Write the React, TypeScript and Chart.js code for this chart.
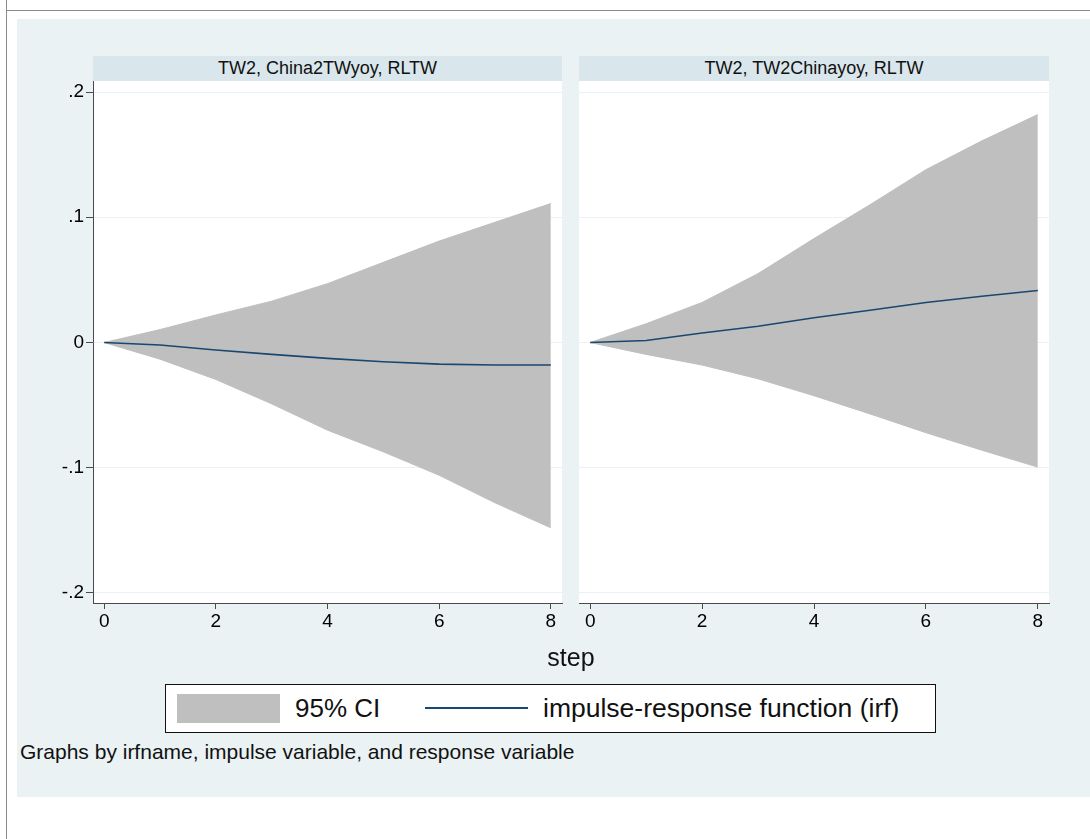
import React, { useEffect, useRef } from "react";
import { Chart, registerables } from "chart.js";

Chart.register(...registerables);

// ---------- data ----------
const steps = [0, 1, 2, 3, 4, 5, 6, 7, 8];

const irfChina2TW = [0, -0.002, -0.006, -0.0095, -0.0127, -0.0154, -0.0173, -0.018, -0.018];
const loChina2TW = [0, -0.0133, -0.0295, -0.049, -0.07, -0.0873, -0.106, -0.128, -0.148];
const hiChina2TW = [0, 0.0103, 0.022, 0.033, 0.047, 0.064, 0.081, 0.096, 0.111];

const irfTW2China = [0, 0.0016, 0.0076, 0.013, 0.0198, 0.0257, 0.032, 0.0369, 0.0415];
const loTW2China = [0, -0.0095, -0.018, -0.029, -0.0425, -0.057, -0.072, -0.086, -0.0995];
const hiTW2China = [0, 0.015, 0.032, 0.055, 0.083, 0.11, 0.138, 0.161, 0.182];

const yTicks = [-0.2, -0.1, 0, 0.1, 0.2];
const xTicks = [0, 2, 4, 6, 8];

const panelTitles = ["TW2, China2TWyoy, RLTW", "TW2, TW2Chinayoy, RLTW"];
const legendLabels = ["95% CI", "impulse-response function (irf)"];
const xAxisTitle = "step";
const noteText = "Graphs by irfname, impulse variable, and response variable";

// ---------- style ----------
const FONT = '"Liberation Sans", Arial, Helvetica, sans-serif';
const BAND = "#BFBFBF";
const LINE = "#1A476F";
const AXIS = "#4a4a4a";
const GRID = "#EAF2F3";
const REGION = "#EAF2F3";
const STRIP = "#D9E6EB";
const TICK_SIZE = 19;

const fmtY = (v: number) => {
  if (Math.abs(v) < 1e-9) return "0";
  const s = Math.abs(v).toFixed(1).replace(/^0/, "");
  return (v < 0 ? "-" : "") + s;
};

const whiteArea = {
  id: "whiteArea",
  beforeDraw(chart: any) {
    const { ctx, chartArea } = chart;
    ctx.save();
    ctx.fillStyle = "#ffffff";
    ctx.fillRect(chartArea.left, chartArea.top, chartArea.right - chartArea.left, chartArea.bottom - chartArea.top);
    ctx.restore();
  },
};

function makeConfig(irf: number[], lo: number[], hi: number[], showY: boolean): any {
  const pts = (arr: number[]) => steps.map((s, i) => ({ x: s, y: arr[i] }));
  return {
    type: "line",
    data: {
      datasets: [
        {
          label: legendLabels[1],
          data: pts(irf),
          borderColor: LINE,
          borderWidth: 1.6,
          pointRadius: 0,
          tension: 0,
          fill: false,
        },
        {
          label: "lower",
          data: pts(lo),
          borderColor: BAND,
          backgroundColor: BAND,
          borderWidth: 1,
          pointRadius: 0,
          tension: 0,
          fill: false,
        },
        {
          label: legendLabels[0],
          data: pts(hi),
          borderColor: BAND,
          backgroundColor: BAND,
          borderWidth: 1,
          pointRadius: 0,
          tension: 0,
          fill: "-1",
        },
      ],
    },
    options: {
      responsive: false,
      animation: false,
      maintainAspectRatio: false,
      layout: { padding: { left: 0, right: 8, top: 0, bottom: 0 } },
      plugins: { legend: { display: false }, tooltip: { enabled: false } },
      scales: {
        x: {
          type: "linear",
          min: -0.2,
          max: 8.2,
          afterBuildTicks: (s: any) => {
            s.ticks = xTicks.map((v) => ({ value: v }));
          },
          afterFit: (s: any) => {
            s.height = 40;
            s.paddingLeft = 0;
            s.paddingRight = 0;
          },
          grid: { drawOnChartArea: false, drawTicks: true, tickLength: 6, tickColor: AXIS, lineWidth: 1 },
          border: { display: true, color: AXIS, width: 1 },
          ticks: {
            font: { family: FONT, size: TICK_SIZE },
            color: "#000",
            padding: 1,
            maxRotation: 0,
            autoSkip: false,
            callback: (v: any) => String(v),
          },
        },
        y: {
          type: "linear",
          min: -0.208,
          max: 0.2088,
          afterBuildTicks: (s: any) => {
            s.ticks = yTicks.map((v) => ({ value: v }));
          },
          afterFit: (s: any) => {
            s.width = showY ? 63 : 0;
            s.paddingTop = 0;
            s.paddingBottom = 0;
          },
          grid: {
            color: GRID,
            lineWidth: 1,
            drawTicks: showY,
            tickLength: showY ? 7 : 0,
            tickColor: AXIS,
          },
          border: { display: showY, color: AXIS, width: 1 },
          ticks: {
            display: showY,
            font: { family: FONT, size: TICK_SIZE },
            color: "#000",
            padding: 2,
            autoSkip: false,
            callback: (v: any) => fmtY(Number(v)),
          },
        },
      },
    },
    plugins: [whiteArea],
  };
}

function Panel(props: { irf: number[]; lo: number[]; hi: number[]; showY: boolean; left: number; top: number; width: number; height: number }) {
  const ref = useRef<HTMLCanvasElement | null>(null);
  useEffect(() => {
    if (!ref.current) return;
    const chart = new Chart(ref.current, makeConfig(props.irf, props.lo, props.hi, props.showY));
    return () => chart.destroy();
  }, []);
  return (
    <canvas
      ref={ref}
      width={props.width}
      height={props.height}
      style={{ position: "absolute", left: props.left, top: props.top, width: props.width, height: props.height }}
    />
  );
}

export default function App() {
  const plotTop = 81;
  const plotBottom = 603;
  const canvasH = plotBottom - plotTop + 40;
  const p1Left = 93;
  const p1Right = 562;
  const p2Left = 579;
  const p2Right = 1049;

  const strip = (left: number, right: number, text: string) => (
    <div
      style={{
        position: "absolute",
        left,
        top: 56,
        width: right - left,
        height: 25,
        background: STRIP,
        color: "#111",
        fontFamily: FONT,
        fontSize: 18,
        lineHeight: "25px",
        textAlign: "center",
        whiteSpace: "nowrap",
      }}
    >
      {text}
    </div>
  );

  return (
    <div style={{ position: "absolute", left: 0, top: 0, width: 1090, height: 839, background: "#ffffff", overflow: "hidden", fontFamily: FONT }}>
      {/* outer frame lines */}
      <div style={{ position: "absolute", left: 6, top: 0, width: 0, height: 839, borderLeft: "1px solid #8c8c8c" }} />
      <div style={{ position: "absolute", left: 6, top: 10, width: 1084, height: 0, borderTop: "1px solid #8c8c8c" }} />
      {/* graph region */}
      <div style={{ position: "absolute", left: 17, top: 19, width: 1073, height: 778, background: REGION }} />

      {strip(p1Left, p1Right, panelTitles[0])}
      {strip(p2Left, p2Right, panelTitles[1])}

      <Panel irf={irfChina2TW} lo={loChina2TW} hi={hiChina2TW} showY={true} left={p1Left - 63} top={plotTop} width={p1Right - p1Left + 63 + 8} height={canvasH} />
      <Panel irf={irfTW2China} lo={loTW2China} hi={hiTW2China} showY={false} left={p2Left} top={plotTop} width={p2Right - p2Left + 8} height={canvasH} />

      {/* x axis title */}
      <div
        style={{
          position: "absolute",
          left: p1Left,
          width: p2Right - p1Left,
          top: 642,
          height: 30,
          lineHeight: "30px",
          textAlign: "center",
          fontSize: 25,
          color: "#111",
        }}
      >
        {xAxisTitle}
      </div>

      {/* legend */}
      <div
        style={{
          position: "absolute",
          left: 165,
          top: 684,
          width: 771,
          height: 49,
          boxSizing: "border-box",
          border: "1px solid #111",
          background: "#ffffff",
        }}
      />
      <div style={{ position: "absolute", left: 177, top: 694, width: 103, height: 29, background: BAND }} />
      <div style={{ position: "absolute", left: 295, top: 693, height: 30, lineHeight: "30px", fontSize: 26, color: "#111", whiteSpace: "nowrap" }}>
        {legendLabels[0]}
      </div>
      <div style={{ position: "absolute", left: 425, top: 707, width: 103, height: 2, background: LINE }} />
      <div style={{ position: "absolute", left: 543, top: 693, height: 30, lineHeight: "30px", fontSize: 26.5, color: "#111", whiteSpace: "nowrap" }}>
        {legendLabels[1]}
      </div>

      {/* note */}
      <div style={{ position: "absolute", left: 20, top: 740, height: 24, lineHeight: "24px", fontSize: 21, color: "#111", whiteSpace: "nowrap" }}>
        {noteText}
      </div>
    </div>
  );
}
